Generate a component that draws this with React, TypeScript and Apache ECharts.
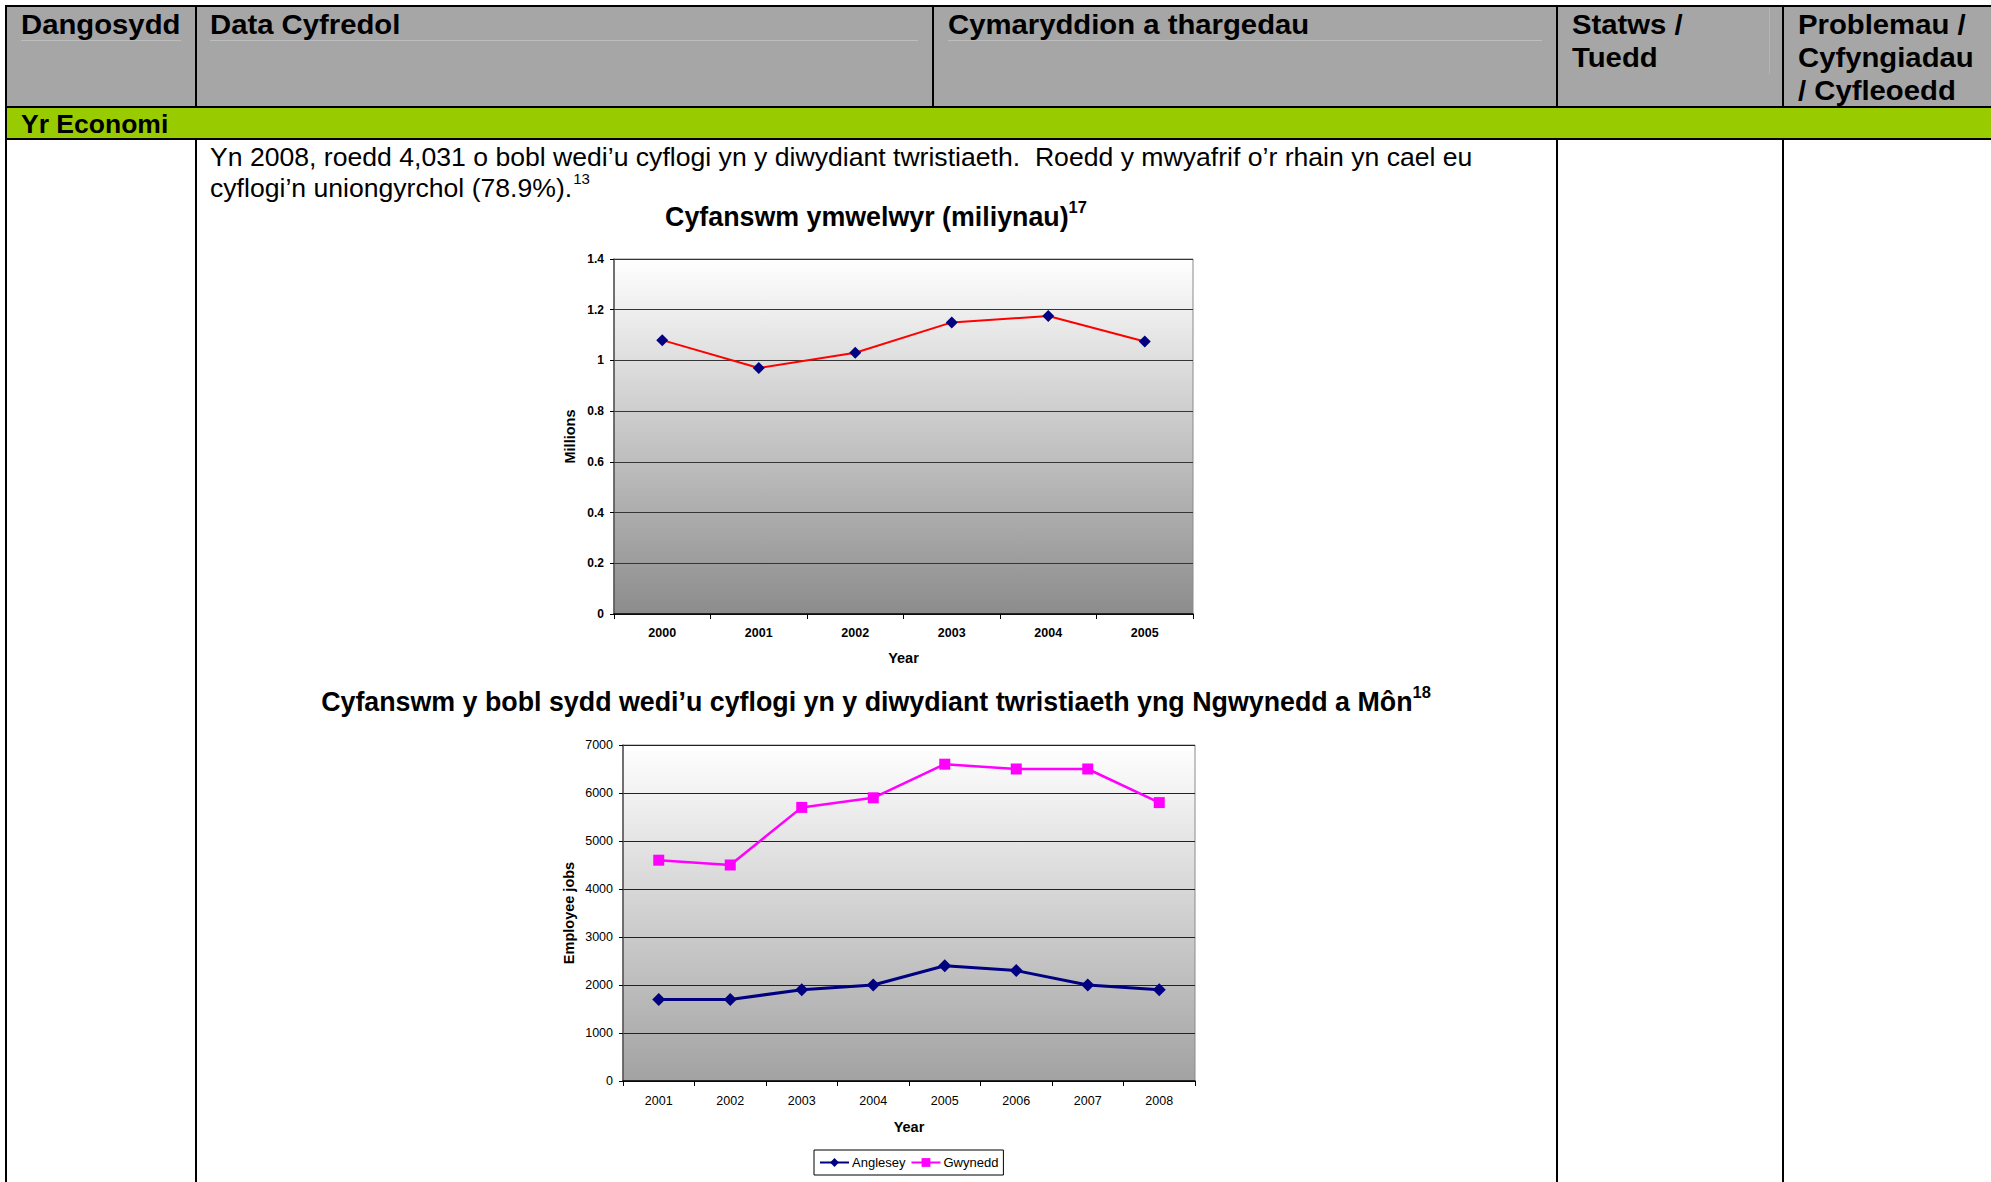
import React, { useEffect, useRef } from "react";
import * as echarts from "echarts";

// ---------- data ----------
const visitorYears = ["2000", "2001", "2002", "2003", "2004", "2005"];
const visitorMillions = [1.08, 0.97, 1.03, 1.15, 1.175, 1.075];

const jobYears = ["2001", "2002", "2003", "2004", "2005", "2006", "2007", "2008"];
const angleseyJobs = [1700, 1700, 1900, 2000, 2400, 2300, 2000, 1900];
const gwyneddJobs = [4600, 4500, 5700, 5900, 6600, 6500, 6500, 5800];

const seriesNames = ["Anglesey", "Gwynedd"];

const headerCells = [
  ["Dangosydd"],
  ["Data Cyfredol"],
  ["Cymaryddion a thargedau"],
  ["Statws /", "Tuedd"],
  ["Problemau /", "Cyfyngiadau", "/ Cyfleoedd"],
];
const sectionLabel = "Yr Economi";
const bodyLine1 = "Yn 2008, roedd 4,031 o bobl wedi’u cyflogi yn y diwydiant twristiaeth.  Roedd y mwyafrif o’r rhain yn cael eu";
const bodyLine2 = "cyflogi’n uniongyrchol (78.9%).";
const bodySup = "13";
const title1 = "Cyfanswm ymwelwyr (miliynau)";
const title1Sup = "17";
const title2 = "Cyfanswm y bobl sydd wedi’u cyflogi yn y diwydiant twristiaeth yng Ngwynedd a Môn";
const title2Sup = "18";

const FONT = "'Liberation Sans', Arial, Helvetica, sans-serif";

function measure(text: string, font: string): number {
  try {
    const c = document.createElement("canvas").getContext("2d");
    if (c) {
      c.font = font;
      return c.measureText(text).width;
    }
  } catch (e) {}
  return text.length * 12;
}

function buildOption() {
  const colX = [21, 210, 948, 1572, 1798];
  const lineYs = [24, 57, 90];
  const graphics: any[] = [];

  // header & section backgrounds
  graphics.push({ type: "rect", shape: { x: 6, y: 6, width: 1985, height: 101 }, style: { fill: "#a6a6a6" }, silent: true });
  graphics.push({ type: "rect", shape: { x: 6, y: 107, width: 1985, height: 32 }, style: { fill: "#99cc00" }, silent: true });

  // faint artifacts in header
  const faint = "#bdbdbd";
  [[21, 181], [210, 918], [948, 1542]].forEach(([a, b]) =>
    graphics.push({ type: "rect", shape: { x: a, y: 40, width: b - a, height: 1 }, style: { fill: faint }, silent: true })
  );
  graphics.push({ type: "rect", shape: { x: 1769, y: 8, width: 1, height: 66 }, style: { fill: "#b4b4b4" }, silent: true });

  // borders
  const black = "#000";
  const bar = (x: number, y: number, w: number, h: number) =>
    graphics.push({ type: "rect", shape: { x, y, width: w, height: h }, style: { fill: black }, silent: true });
  bar(5, 5, 1986, 2);
  bar(5, 5, 2, 1177);
  bar(5, 106, 1986, 2);
  bar(5, 138, 1986, 2);
  [195, 932, 1556, 1782].forEach((x) => bar(x, 5, 2, 102));
  [195, 1556, 1782].forEach((x) => bar(x, 138, 2, 1044));

  // header texts
  headerCells.forEach((lines, i) => {
    lines.forEach((t, j) => {
      graphics.push({
        type: "text",
        x: colX[i],
        y: lineYs[j],
        scaleX: 1.085,
        style: { text: t, fill: "#000", font: `bold 27px ${FONT}`, align: "left", verticalAlign: "middle" },
        silent: true,
      });
    });
  });

  graphics.push({
    type: "text",
    x: 21,
    y: 124,
    style: { text: sectionLabel, fill: "#000", font: `bold 26.5px ${FONT}`, align: "left", verticalAlign: "middle" },
    silent: true,
  });

  // body text
  const bodyFont = `26.6px ${FONT}`;
  graphics.push({
    type: "text",
    x: 210,
    y: 157,
    style: { text: bodyLine1, fill: "#000", font: bodyFont, align: "left", verticalAlign: "middle", lineHeight: 26 },
    silent: true,
  });
  graphics.push({
    type: "text",
    x: 210,
    y: 188,
    style: { text: bodyLine2, fill: "#000", font: bodyFont, align: "left", verticalAlign: "middle", lineHeight: 26 },
    silent: true,
  });
  graphics.push({
    type: "text",
    x: 210 + measure(bodyLine2, bodyFont) + 1,
    y: 178.5,
    style: { text: bodySup, fill: "#000", font: `15px ${FONT}`, align: "left", verticalAlign: "middle", lineHeight: 14 },
    silent: true,
  });

  // chart titles
  const titleEl = (y: number, t: string, s: string) => ({
    type: "text",
    x: 876,
    y,
    style: {
      text: `{t|${t}}{s|${s}}`,
      align: "center",
      verticalAlign: "middle",
      rich: {
        t: { fontSize: 26.8, fontWeight: "bold", fontFamily: FONT, color: "#000", lineHeight: 38 },
        s: { fontSize: 16.5, fontWeight: "bold", fontFamily: FONT, color: "#000", lineHeight: 16.5, verticalAlign: "top" },
      },
    },
    silent: true,
  });
  graphics.push(titleEl(217, title1, title1Sup));
  graphics.push(titleEl(702, title2, title2Sup));

  const grad1 = new echarts.graphic.LinearGradient(0, 0, 0, 1, [
    { offset: 0, color: "#ffffff" },
    { offset: 1, color: "#8c8c8c" },
  ]);
  const grad2 = new echarts.graphic.LinearGradient(0, 0, 0, 1, [
    { offset: 0, color: "#ffffff" },
    { offset: 1, color: "#a2a2a2" },
  ]);

  const plainNum = (v: number) => String(v);

  return {
    animation: false,
    backgroundColor: "#ffffff",
    textStyle: { fontFamily: FONT },
    graphic: { elements: graphics },
    grid: [
      {
        left: 614, top: 259, width: 579, height: 355,
        show: true, backgroundColor: grad1, borderColor: "#8a8a8a", borderWidth: 1,
      },
      {
        left: 623, top: 745, width: 572, height: 336,
        show: true, backgroundColor: grad2, borderColor: "#8a8a8a", borderWidth: 1,
      },
    ],
    legend: {
      data: seriesNames,
      left: 814,
      top: 1150,
      orient: "horizontal",
      borderColor: "#000",
      borderWidth: 1,
      padding: [6, 5],
      itemGap: 5,
      itemWidth: 29,
      itemHeight: 11,
      textStyle: { fontFamily: FONT, fontSize: 13, color: "#000", padding: [0, 0, 0, -2] },
    },
    xAxis: [
      {
        type: "category",
        gridIndex: 0,
        data: visitorYears,
        boundaryGap: true,
        axisLine: { lineStyle: { color: "#000", width: 1.5 } },
        axisTick: { show: true, length: 5, lineStyle: { color: "#000" } },
        axisLabel: { fontFamily: FONT, fontSize: 12.5, fontWeight: "bold", color: "#000", margin: 12 },
        name: "Year",
        nameLocation: "middle",
        nameGap: 36,
        nameTextStyle: { fontFamily: FONT, fontSize: 14.5, fontWeight: "bold", color: "#000" },
        splitLine: { show: false },
      },
      {
        type: "category",
        gridIndex: 1,
        data: jobYears,
        boundaryGap: true,
        axisLine: { lineStyle: { color: "#000", width: 1.5 } },
        axisTick: { show: true, length: 5, lineStyle: { color: "#000" } },
        axisLabel: { fontFamily: FONT, fontSize: 12.5, color: "#000", margin: 13 },
        name: "Year",
        nameLocation: "middle",
        nameGap: 38,
        nameTextStyle: { fontFamily: FONT, fontSize: 14.5, fontWeight: "bold", color: "#000" },
        splitLine: { show: false },
      },
    ],
    yAxis: [
      {
        type: "value",
        gridIndex: 0,
        min: 0,
        max: 1.4,
        interval: 0.2,
        axisLine: { show: true, lineStyle: { color: "#555", width: 1.5 } },
        axisTick: { show: true, length: 4, lineStyle: { color: "#000" } },
        axisLabel: { fontFamily: FONT, fontSize: 12, fontWeight: "bold", color: "#000", margin: 10 },
        splitLine: { show: true, lineStyle: { color: "#353535", width: 1 } },
        name: "Millions",
        nameLocation: "middle",
        nameGap: 36.5,
        nameTextStyle: { fontFamily: FONT, fontSize: 14.5, fontWeight: "bold", color: "#000" },
      },
      {
        type: "value",
        gridIndex: 1,
        min: 0,
        max: 7000,
        interval: 1000,
        axisLine: { show: true, lineStyle: { color: "#555", width: 1.5 } },
        axisTick: { show: true, length: 4, lineStyle: { color: "#000" } },
        axisLabel: { fontFamily: FONT, fontSize: 12.5, color: "#000", margin: 10, formatter: plainNum },
        splitLine: { show: true, lineStyle: { color: "#222", width: 1 } },
        name: "Employee jobs",
        nameLocation: "middle",
        nameGap: 47,
        nameTextStyle: { fontFamily: FONT, fontSize: 14.5, fontWeight: "bold", color: "#000" },
      },
    ],
    series: [
      {
        type: "line",
        name: "Visitors",
        xAxisIndex: 0,
        yAxisIndex: 0,
        data: visitorMillions,
        symbol: "diamond",
        symbolSize: 12,
        lineStyle: { color: "#ff0000", width: 2 },
        itemStyle: { color: "#000080" },
        z: 3,
      },
      {
        type: "line",
        name: seriesNames[0],
        xAxisIndex: 1,
        yAxisIndex: 1,
        data: angleseyJobs,
        symbol: "diamond",
        symbolSize: 13,
        lineStyle: { color: "#000080", width: 3 },
        itemStyle: { color: "#000080" },
      },
      {
        type: "line",
        name: seriesNames[1],
        xAxisIndex: 1,
        yAxisIndex: 1,
        data: gwyneddJobs,
        symbol: "rect",
        symbolSize: 11,
        lineStyle: { color: "#ff00ff", width: 2.5 },
        itemStyle: { color: "#ff00ff" },
      },
    ],
  };
}

export default function App() {
  const ref = useRef<HTMLDivElement>(null);
  useEffect(() => {
    if (!ref.current) return;
    const chart = echarts.init(ref.current, null, { renderer: "svg" });
    chart.setOption(buildOption() as any);
    return () => chart.dispose();
  }, []);
  return (
    <div
      ref={ref}
      style={{ position: "fixed", left: 0, top: 0, width: 1991, height: 1182, background: "#fff" }}
    />
  );
}
